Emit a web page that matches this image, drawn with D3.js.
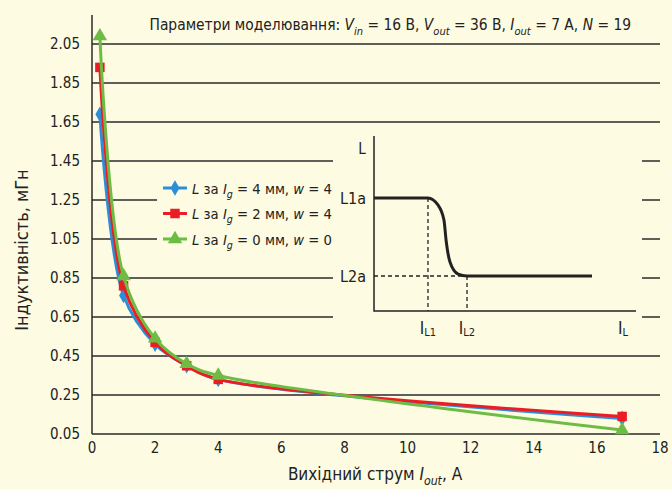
<!DOCTYPE html>
<html>
<head>
<meta charset="utf-8">
<script src="https://cdn.jsdelivr.net/npm/d3@7"></script>
<style>
  body { margin: 0; background: #fdfbe1; }
  svg { display: block; }
  text { font-family: "Liberation Sans Narrow", "DejaVu Sans Condensed", "Arial Narrow", sans-serif; fill: #222; }
</style>
</head>
<body>
<svg id="chart" width="672" height="489"></svg>
<script>
// output current, A
const current = [0.25, 1, 2, 3, 4, 16.8];
// inductance, mH
const lg4w4 = [1.69, 0.76, 0.51, 0.40, 0.33, 0.13];
const lg2w4 = [1.93, 0.81, 0.52, 0.40, 0.33, 0.14];
const lg0w0 = [2.09, 0.86, 0.54, 0.41, 0.35, 0.07];

const xTicks = [0, 2, 4, 6, 8, 10, 12, 14, 16, 18];
const yTicks = [0.05, 0.25, 0.45, 0.65, 0.85, 1.05, 1.25, 1.45, 1.65, 1.85, 2.05];

// inset schematic L(I)
const insetCurve = [[0, 0.646], [2.06, 0.646], [2.44, 0.606], [2.67, 0.52], [2.75, 0.406],
                    [2.9, 0.28], [3.21, 0.211], [3.55, 0.2], [8.32, 0.2]];
const insetLevels = [{name: 'L1a', v: 0.646, at: 2.06}, {name: 'L2a', v: 0.2, at: 3.55}];
const insetCurrents = [{sub: 'L1', v: 2.06}, {sub: 'L2', v: 3.55}];

const series = [
  {values: lg4w4, color: '#2a8ed8', shape: d3.symbolDiamond, size: 70, lg: '4', w: '4'},
  {values: lg2w4, color: '#ec1c24', shape: d3.symbolSquare, size: 90, lg: '2', w: '4'},
  {values: lg0w0, color: '#6dbd45', shape: d3.symbolTriangle, size: 90, lg: '0', w: '0'}
];

const bg = '#fdfbe1';
const svg = d3.select('#chart');

const x = d3.scaleLinear().domain([0, 18]).range([92, 660]);
const y = d3.scaleLinear().domain([0.05, 2.05]).range([434, 44]);

// rich text helper: parts = [text, italic?, sub?]
function rich(sel, parts, size) {
  parts.forEach(([t, it, sub], i) => {
    let prevSub = i > 0 && parts[i - 1][2];
    let dy = sub && !prevSub ? size * 0.3 : (!sub && prevSub ? -size * 0.3 : 0);
    sel.append('tspan')
      .attr('dy', dy)
      .style('font-style', it ? 'italic' : 'normal')
      .style('font-size', (sub ? size * 0.72 : size) + 'px')
      .text(t);
  });
  return sel;
}

// grid lines
svg.append('g').selectAll('line').data(yTicks).join('line')
  .attr('x1', x(0)).attr('x2', x(18))
  .attr('y1', d => y(d)).attr('y2', d => y(d))
  .attr('stroke', '#2a2a2a').attr('stroke-width', 1.5);

// y axis line
svg.append('line').attr('x1', x(0)).attr('x2', x(0)).attr('y1', 15).attr('y2', y(0.05))
  .attr('stroke', '#2a2a2a').attr('stroke-width', 1.5);

// tick labels
svg.append('g').selectAll('text').data(yTicks).join('text')
  .attr('x', 80).attr('y', d => y(d)).attr('dy', '0.36em')
  .attr('text-anchor', 'end').style('font-size', '15px')
  .text(d => d.toFixed(2));

svg.append('g').selectAll('text').data(xTicks).join('text')
  .attr('x', d => x(d)).attr('y', 453)
  .attr('text-anchor', 'middle').style('font-size', '15px')
  .text(d => d);

// axis titles
rich(svg.append('text').attr('x', 375).attr('y', 480).attr('text-anchor', 'middle'),
  [['Вихідний струм  '], ['I', true], ['out', true, true], [', А']], 17);

svg.append('text')
  .attr('transform', 'translate(28,250) rotate(-90)')
  .attr('text-anchor', 'middle').style('font-size', '18px')
  .text('Індуктивність, мГн');

// title
rich(svg.append('text').attr('x', 631).attr('y', 30).attr('text-anchor', 'end'),
  [['Параметри моделювання: '], ['V', true], ['in', true, true], [' = 16 В, '],
   ['V', true], ['out', true, true], [' = 36 В, '], ['I', true], ['out', true, true],
   [' = 7 А, '], ['N', true], [' = 19']], 15.4);

// inset cover + schematic
svg.append('rect').attr('x', 333).attr('y', 128).attr('width', 309).attr('height', 212).attr('fill', bg);

const ix = d3.scaleLinear().domain([0, 10]).range([374, 636]);
const iy = d3.scaleLinear().domain([0, 1]).range([311, 136]);
const inset = svg.append('g');

inset.append('path')
  .attr('d', `M${ix(0)},${iy(1)}V${iy(0)}H${ix(10)}`)
  .attr('fill', 'none').attr('stroke', '#222').attr('stroke-width', 1.5);

insetLevels.forEach(l => {
  inset.append('line').attr('x1', ix(0)).attr('x2', ix(l.at)).attr('y1', iy(l.v)).attr('y2', iy(l.v))
    .attr('stroke', '#222').attr('stroke-width', 1.3).attr('stroke-dasharray', l.name === 'L2a' ? '4,3' : null);
  inset.append('line').attr('x1', ix(l.at)).attr('x2', ix(l.at)).attr('y1', iy(l.v)).attr('y2', iy(0))
    .attr('stroke', '#222').attr('stroke-width', 1.3).attr('stroke-dasharray', '4,3');
  inset.append('text').attr('x', 366).attr('y', iy(l.v)).attr('dy', '0.36em')
    .attr('text-anchor', 'end').style('font-size', '16px').text(l.name);
});

inset.append('path')
  .attr('d', d3.line().x(d => ix(d[0])).y(d => iy(d[1])).curve(d3.curveMonotoneX)(insetCurve))
  .attr('fill', 'none').attr('stroke', '#222').attr('stroke-width', 3);

inset.append('text').attr('x', 362).attr('y', 154).attr('text-anchor', 'middle')
  .style('font-size', '15px').text('L');

insetCurrents.concat([{sub: 'L', v: 9.5}]).forEach(c => {
  let t = inset.append('text').attr('x', ix(c.v)).attr('y', 334).attr('text-anchor', 'middle');
  t.append('tspan').style('font-size', '17px').text('I');
  t.append('tspan').attr('dy', 2).style('font-size', '11px').text(c.sub);
});

// legend
const legend = svg.append('g');
legend.append('rect').attr('x', 157).attr('y', 174).attr('width', 176).attr('height', 78).attr('fill', bg);
series.forEach((s, i) => {
  let ly = 188 + i * 25.5;
  legend.append('line').attr('x1', 163).attr('x2', 187).attr('y1', ly).attr('y2', ly)
    .attr('stroke', s.color).attr('stroke-width', 3);
  legend.append('path').attr('d', d3.symbol(s.shape, s.size)())
    .attr('transform', `translate(175,${ly})`).attr('fill', s.color);
  rich(legend.append('text').attr('x', 192).attr('y', ly + 5.5),
    [['L', true], [' за '], ['I', true], ['g', true, true], [' = ' + s.lg + ' мм, '], ['w', true], [' = ' + s.w]], 14.7);
});

// data lines
const line = d3.line().x((d, i) => x(current[i])).y(d => y(d)).curve(d3.curveCatmullRom.alpha(0.5));
series.forEach(s => {
  let g = svg.append('g');
  g.append('path').attr('d', line(s.values))
    .attr('fill', 'none').attr('stroke', s.color).attr('stroke-width', 3);
  g.selectAll('path.pt').data(s.values).join('path').attr('class', 'pt')
    .attr('d', d3.symbol(s.shape, s.size)())
    .attr('transform', (d, i) => `translate(${x(current[i])},${y(d)})`)
    .attr('fill', s.color);
});
</script>
</body>
</html>
